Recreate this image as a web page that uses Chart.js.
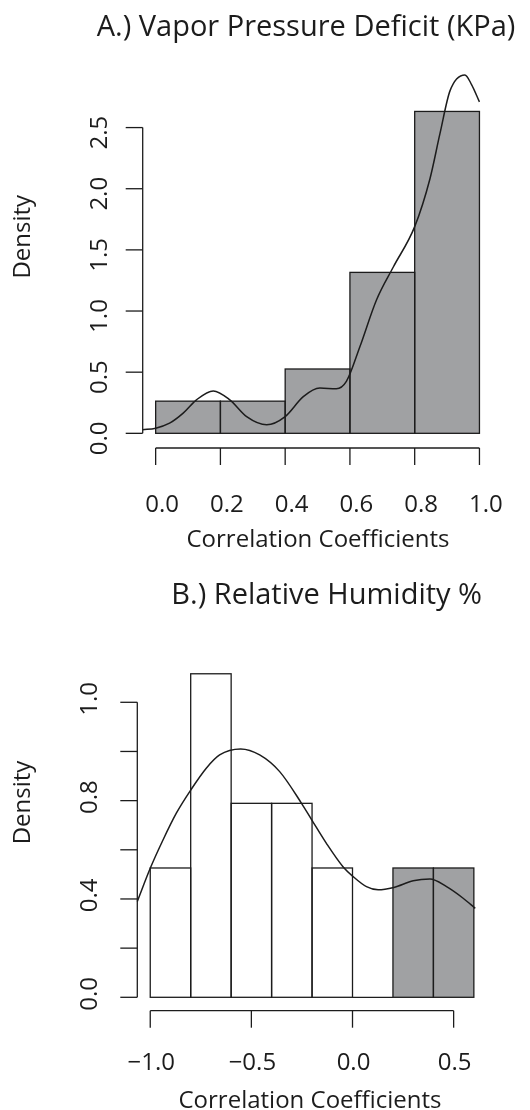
<!DOCTYPE html>
<html>
<head>
<meta charset="utf-8">
<script src="https://cdn.jsdelivr.net/npm/chart.js@4.4.1/dist/chart.umd.min.js"></script>
<style>
  html, body { margin: 0; background: #fff; }
  .panel { position: absolute; left: 0; }
</style>
</head>
<body>
<div class="panel" style="top:0"><canvas id="chartA" width="530" height="555"></canvas></div>
<div class="panel" style="top:560px"><canvas id="chartB" width="530" height="550"></canvas></div>
<script>
// A.) Vapor Pressure Deficit
const vpdBreaks = [0, 0.2, 0.4, 0.6, 0.8, 1.0];
const vpdDensity = [0.263, 0.263, 0.526, 1.316, 2.632];
const vpdCurveX = [-0.04, 0.0, 0.043, 0.085, 0.126, 0.178, 0.229, 0.281, 0.343, 0.4, 0.456, 0.507, 0.558, 0.589, 0.631, 0.682, 0.734, 0.8, 0.847, 0.878, 0.909, 0.955, 0.976, 1.0];
const vpdCurveY = [0.029, 0.042, 0.083, 0.165, 0.274, 0.347, 0.274, 0.137, 0.07, 0.137, 0.30, 0.37, 0.364, 0.424, 0.71, 1.09, 1.36, 1.69, 2.08, 2.45, 2.80, 2.93, 2.85, 2.71];
const vpdXTicks = [0, 0.2, 0.4, 0.6, 0.8, 1.0];
const vpdXLabels = ['0.0', '0.2', '0.4', '0.6', '0.8', '1.0'];
const vpdYTicks = [0, 0.5, 1.0, 1.5, 2.0, 2.5];
const vpdYLabels = ['0.0', '0.5', '1.0', '1.5', '2.0', '2.5'];

// B.) Relative Humidity
const rhBreaks = [-1.0, -0.8, -0.6, -0.4, -0.2, 0.0, 0.2, 0.4, 0.6];
const rhDensity = [0.526, 1.316, 0.789, 0.789, 0.526, 0, 0.526, 0.526];
const rhShaded = [false, false, false, false, false, false, true, true];
const rhCurveX = [-1.064, -1.0, -0.937, -0.871, -0.80, -0.723, -0.657, -0.553, -0.459, -0.36, -0.252, -0.201, -0.129, -0.047, 0.003, 0.069, 0.127, 0.204, 0.30, 0.383, 0.465, 0.547, 0.607];
const rhCurveY = [0.39, 0.525, 0.64, 0.749, 0.843, 0.932, 0.986, 1.01, 0.986, 0.918, 0.789, 0.721, 0.626, 0.531, 0.491, 0.45, 0.437, 0.447, 0.474, 0.481, 0.45, 0.403, 0.362];
const rhXTicks = [-1.0, -0.5, 0.0, 0.5];
const rhXLabels = ['\u22121.0', '\u22120.5', '0.0', '0.5'];
const rhYTicks = [0, 0.2, 0.4, 0.6, 0.8, 1.0, 1.2];
const rhYLabels = ['0.0', '', '0.4', '', '0.8', '', '1.0'];

const ink = '#1c1c1c';
const gray = 'rgb(160,161,163)';
const FONT = '"Open Sans", "DejaVu Sans", sans-serif';

function seg(ctx, x1, y1, x2, y2) {
  ctx.beginPath();
  ctx.moveTo(x1, y1);
  ctx.lineTo(x2, y2);
  ctx.stroke();
}

// stroke histogram cells centred on their edges (like R's rect), so shared edges stay one line wide
const barOutline = {
  id: 'barOutline',
  afterDatasetDraw(chart, args) {
    if (args.meta.type !== 'bar') return;
    const ctx = chart.ctx;
    ctx.save();
    ctx.strokeStyle = ink;
    ctx.lineWidth = 1.3;
    args.meta.data.forEach(el => {
      const p = el.getProps(['x', 'y', 'base', 'width'], true);
      ctx.strokeRect(p.x - p.width / 2, p.y, p.width, p.base - p.y);
    });
    ctx.restore();
  }
};

// R-style axes: line only between first and last tick, labels parallel to the axis
const rAxes = {
  id: 'rAxes',
  afterDraw(chart, args, o) {
    const ctx = chart.ctx, a = chart.chartArea;
    const xs = chart.scales.x, ys = chart.scales.y;
    ctx.save();
    ctx.strokeStyle = ink;
    ctx.fillStyle = ink;
    ctx.lineWidth = 1.3;

    const yp = o.yTicks.map(v => ys.getPixelForValue(v));
    seg(ctx, a.left, yp[0], a.left, yp[yp.length - 1]);
    yp.forEach(p => seg(ctx, a.left - o.tickLen, p, a.left, p));

    const xp = o.xTicks.map(v => xs.getPixelForValue(v));
    seg(ctx, xp[0], a.bottom, xp[xp.length - 1], a.bottom);
    xp.forEach(p => seg(ctx, p, a.bottom, p, a.bottom + o.tickLen));

    ctx.font = '24px ' + FONT;
    ctx.textAlign = 'center';
    ctx.textBaseline = 'alphabetic';
    o.xLabels.forEach((t, i) => ctx.fillText(t, xp[i] + o.xLabelDx, o.xLabelBase));

    ctx.textBaseline = 'middle';
    o.yLabels.forEach((t, i) => {
      if (!t) return;
      ctx.save();
      ctx.translate(o.yLabelX, yp[i] + o.yLabelDy);
      ctx.rotate(-Math.PI / 2);
      ctx.fillText(t, 0, 0);
      ctx.restore();
    });

    ctx.textBaseline = 'alphabetic';
    ctx.fillText(o.xTitle, o.xTitleX, o.xTitleBase);

    ctx.save();
    ctx.translate(o.yTitleX, o.yTitleY);
    ctx.rotate(-Math.PI / 2);
    ctx.textBaseline = 'middle';
    ctx.fillText(o.yTitle, 0, 0);
    ctx.restore();

    ctx.font = '29px ' + FONT;
    ctx.textBaseline = 'alphabetic';
    ctx.fillText(o.title, o.titleX, o.titleBase);
    ctx.restore();
  }
};

function mids(breaks) {
  return breaks.slice(0, -1).map((b, i) => (b + breaks[i + 1]) / 2);
}

function pts(xs, ys) {
  return xs.map((x, i) => ({ x: x, y: ys[i] }));
}

// panel A
new Chart(document.getElementById('chartA'), {
  type: 'bar',
  data: {
    datasets: [
      {
        type: 'line',
        data: pts(vpdCurveX, vpdCurveY),
        borderColor: ink,
        borderWidth: 1.5,
        pointRadius: 0,
        cubicInterpolationMode: 'monotone',
        clip: false,
        order: 0
      },
      {
        data: pts(mids(vpdBreaks), vpdDensity),
        backgroundColor: gray,
        borderWidth: 0,
        inflateAmount: 0,
        barPercentage: 1,
        categoryPercentage: 1,
        order: 1
      }
    ]
  },
  options: {
    responsive: false,
    animation: false,
    layout: { padding: { left: 142.7, right: 37.6, top: 97, bottom: 107 } },
    scales: {
      x: { type: 'linear', min: -0.04, max: 1.04, offset: false, display: false },
      y: { type: 'linear', min: -0.12, max: 2.75, display: false }
    },
    plugins: {
      legend: { display: false },
      tooltip: { enabled: false },
      rAxes: {
        tickLen: 17,
        xTicks: vpdXTicks, xLabels: vpdXLabels, xLabelDx: 6.5, xLabelBase: 512,
        yTicks: vpdYTicks, yLabels: vpdYLabels, yLabelX: 100, yLabelDy: 5,
        xTitle: 'Correlation Coefficients', xTitleX: 318, xTitleBase: 546.5,
        yTitle: 'Density', yTitleX: 23, yTitleY: 236.7,
        title: 'A.) Vapor Pressure Deficit (KPa)', titleX: 306, titleBase: 36
      }
    }
  },
  plugins: [barOutline, rAxes]
});

// panel B
new Chart(document.getElementById('chartB'), {
  type: 'bar',
  data: {
    datasets: [
      {
        type: 'line',
        data: pts(rhCurveX, rhCurveY),
        borderColor: ink,
        borderWidth: 1.5,
        pointRadius: 0,
        cubicInterpolationMode: 'monotone',
        clip: false,
        order: 0
      },
      {
        data: pts(mids(rhBreaks), rhDensity),
        backgroundColor: rhShaded.map(s => s ? gray : '#ffffff'),
        borderWidth: 0,
        inflateAmount: 0,
        barPercentage: 1,
        categoryPercentage: 1,
        order: 1
      }
    ]
  },
  options: {
    responsive: false,
    animation: false,
    layout: { padding: { left: 137.3, right: 43.2, top: 100.5, bottom: 99.3 } },
    scales: {
      x: { type: 'linear', min: -1.064, max: 0.664, offset: false, display: false },
      y: { type: 'linear', min: -0.0545, max: 1.37, display: false }
    },
    plugins: {
      legend: { display: false },
      tooltip: { enabled: false },
      rAxes: {
        tickLen: 17,
        xTicks: rhXTicks, xLabels: rhXLabels, xLabelDx: 1, xLabelBase: 510,
        yTicks: rhYTicks, yLabels: rhYLabels, yLabelX: 90, yLabelDy: -3.5,
        xTitle: 'Correlation Coefficients', xTitleX: 310, xTitleBase: 548,
        yTitle: 'Density', yTitleX: 23.3, yTitleY: 242.5,
        title: 'B.) Relative Humidity %', titleX: 326.7, titleBase: 44
      }
    }
  },
  plugins: [barOutline, rAxes]
});
</script>
</body>
</html>
